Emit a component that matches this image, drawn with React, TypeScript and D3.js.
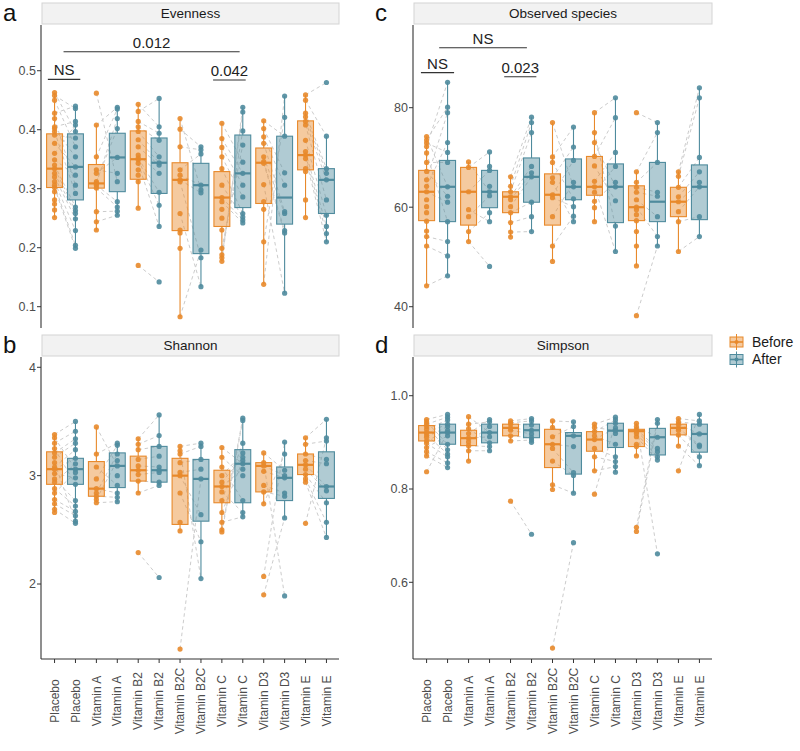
import React from "react";
import * as d3 from "d3";

const categories = ["Placebo","Placebo","Vitamin A","Vitamin A","Vitamin B2","Vitamin B2","Vitamin B2C","Vitamin B2C","Vitamin C","Vitamin C","Vitamin D3","Vitamin D3","Vitamin E","Vitamin E"];
const conditionNames = ["Before", "After"];
const conditionColors = ["#E8892B", "#4F8B9D"];

// ---- Evenness ----
const evennessPoints = [
  [.463,.458,.450,.428,.419,.405,.402,.397,.391,.377,.360,.349,.340,.334,.326,.320,.312,.306,.302,.295,.281,.274,.264,.251],
  [.397,.436,.371,.440,.306,.414,.354,.292,.386,.337,.408,.323,.269,.263,.258,.249,.229,.204,.199],
  [.462,.408,.354,.332,.326,.312,.309,.306,.301,.261,.244,.230],
  [.312,.438,.435,.326,.353,.402,.419,.278,.269,.262,.255],
  [.170,.443,.431,.414,.405,.397,.383,.371,.357,.352,.349,.343,.332,.323,.312,.267],
  [.142,.405,.453,.394,.382,.354,.344,.340,.326,.294,.272,.236],
  [.083,.419,.401,.371,.332,.323,.315,.312,.258,.230,.225,.199],
  [.196,.298,.371,.366,.359,.306,.293,.183,.134],
  [.177,.183,.188,.199,.411,.385,.370,.354,.334,.306,.285,.278,.265,.250,.230],
  [.438,.430,.398,.374,.345,.326,.306,.286,.258,.252,.247,.242],
  [.138,.210,.415,.402,.388,.377,.354,.346,.343,.307,.278,.265],
  [.457,.421,.389,.327,.306,.261,.258,.229,.225,.123],
  [.459,.450,.428,.422,.414,.408,.382,.363,.357,.351,.334,.329,.281,.251],
  [.480,.389,.334,.326,.315,.281,.255,.236,.224,.210],
];
// [lower whisker, q1, median, q3, upper whisker]
const evennessBoxes = [
  [.251,.302,.334,.393,.463],[.199,.281,.337,.393,.440],
  [.229,.301,.309,.341,.408],[.255,.295,.353,.394,.438],
  [.267,.316,.350,.398,.443],[.236,.292,.344,.386,.453],
  [.083,.229,.315,.344,.419],[.134,.190,.306,.343,.371],
  [.177,.236,.285,.329,.411],[.242,.268,.326,.391,.438],
  [.138,.275,.344,.369,.415],[.123,.240,.285,.389,.457],
  [.251,.332,.357,.415,.459],[.210,.258,.315,.334,.389],
];
const evennessTicks = [0.1, 0.2, 0.3, 0.4, 0.5];
const evennessSig = [
  { label: "NS", from: -0.32, to: 1.23, y: 0.4854 },
  { label: "0.012", from: 0.43, to: 8.85, y: 0.5322 },
  { label: "0.042", from: 7.58, to: 9.14, y: 0.4842 },
];

// ---- Observed species ----
const observedPoints = [
  [44.2,52.2,54.1,74.2,73.5,72.9,72.2,70.9,69.0,67.2,65.5,64.2,63.1,61.5,60.1,58.9,57.2,55.2],
  [46.2,50.2,53.1,64.1,80.1,71.0,85.1,57.1,69.0,62.2,79.0,73.0,61.0],
  [69.1,68.0,63.1,59.5,58.1,55.1,53.1],
  [63.1,71.1,67.4,57.1,62.3,58.9,48.1,68.2,64.2],
  [66.1,64.2,63.1,62.1,61.5,60.1,58.9,56.9,55.0,54.0],
  [78.1,77.0,75.0,68.2,66.9,66.1,61.0,58.1,55.1],
  [77.0,70.1,69.0,65.9,65.0,62.5,61.9,58.1,52.2,49.1],
  [64.1,76.1,61.7,72.1,57.1,69.4,60.1,65.0,58.2],
  [79.0,75.0,73.0,70.2,68.3,65.2,64.1,63.0,61.2,59.9,57.1],
  [82.0,56.2,64.1,78.0,61.3,71.0,51.1,68.2,65.0],
  [79.0,38.2,67.1,65.0,64.0,63.0,61.5,60.0,59.5,58.5,57.3,55.1,52.2,48.2],
  [77.0,52.2,75.0,69.0,63.0,62.2,58.1,54.1],
  [67.1,66.2,64.0,62.1,61.1,59.1,57.1,51.1],
  [84.0,82.0,70.0,67.1,65.0,64.1,58.1,54.1],
];
const observedBoxes = [
  [44.2,57.3,63.1,67.4,74.2],[46.2,57.1,64.1,69.4,85.1],
  [53.1,56.4,63.1,68.0,69.1],[57.1,59.9,63.1,67.4,71.1],
  [54.0,58.9,62.1,63.1,66.1],[55.1,61.0,66.1,69.9,78.1],
  [49.1,56.4,62.5,66.7,77.0],[57.1,61.5,64.1,69.7,76.1],
  [57.1,62.4,64.1,70.2,79.0],[51.1,56.9,64.1,68.7,82.0],
  [48.2,57.3,60.0,64.3,67.1],[52.2,57.1,61.1,69.0,77.0],
  [51.1,58.1,61.1,64.0,67.1],[54.1,57.5,64.1,68.5,84.0],
];
const observedTicks = [40, 60, 80];
const observedSig = [
  { label: "NS", from: 0.6, to: 4.78, y: 92.06 },
  { label: "NS", from: -0.27, to: 1.31, y: 87.04 },
  { label: "0.023", from: 3.7, to: 5.23, y: 86.23 },
];

// ---- Shannon ----
const shannonPoints = [
  [3.38,3.35,3.30,3.25,3.21,3.17,3.12,3.08,3.06,3.02,2.97,2.94,2.88,2.84,2.78,2.74,2.69,2.66],
  [3.50,3.06,3.41,2.92,3.34,3.30,2.58,3.24,3.16,2.98,2.77,3.11,2.72,3.03,2.67,2.63,2.56],
  [3.45,3.20,3.08,2.97,2.88,2.84,2.81,2.78,2.75],
  [3.09,3.30,2.91,3.28,2.84,3.20,2.80,3.14,2.76,3.00],
  [2.29,3.34,3.29,3.24,3.15,3.09,3.05,3.01,2.95,2.84],
  [2.06,3.56,3.37,3.27,3.18,3.08,3.05,3.03,2.94,2.91],
  [1.40,3.27,3.23,3.20,3.12,3.03,3.00,2.84,2.57,2.49],
  [2.97,3.30,2.05,3.27,3.15,3.06,2.64,2.39],
  [3.26,3.17,3.08,3.00,2.94,2.90,2.85,2.77,2.66,2.57,2.50,2.48],
  [3.11,3.00,2.77,3.21,3.17,3.06,2.66,3.30,3.14,2.62,3.53,3.51],
  [2.07,1.90,3.21,3.12,3.09,3.04,2.91,2.85,2.74],
  [3.31,2.61,3.05,1.89,3.00,2.98,2.84,2.81,3.20],
  [2.56,3.35,3.29,3.20,3.14,3.10,3.06,3.01,2.97,2.94],
  [3.35,3.52,3.32,3.15,3.11,2.90,2.86,2.75,2.57,2.43],
];
const shannonBoxes = [
  [2.66,2.92,3.06,3.22,3.38],[2.56,2.92,3.06,3.16,3.50],
  [2.75,2.81,2.88,3.13,3.45],[2.76,2.89,3.09,3.21,3.30],
  [2.84,2.95,3.05,3.18,3.34],[2.91,2.94,3.05,3.27,3.56],
  [2.49,2.55,3.00,3.16,3.27],[2.05,2.58,2.97,3.15,3.30],
  [2.48,2.75,2.90,3.05,3.26],[2.62,2.75,3.11,3.24,3.53],
  [2.74,2.85,3.09,3.12,3.21],[2.61,2.77,2.98,3.08,3.31],
  [2.94,3.01,3.10,3.20,3.35],[2.43,2.79,2.90,3.22,3.52],
];
const shannonTicks = [2, 3, 4];

// ---- Simpson ----
const simpsonPoints = [
  [.837,.949,.944,.939,.934,.928,.921,.916,.911,.903,.898,.889,.880,.871],
  [.921,.960,.896,.954,.884,.948,.939,.875,.934,.926,.869,.914,.856,.846],
  [.955,.939,.929,.919,.909,.901,.893,.882,.860],
  [.921,.944,.899,.949,.912,.934,.891,.882],
  [.774,.946,.942,.939,.931,.926,.914,.903],
  [.703,.951,.946,.937,.926,.918,.910,.905,.900],
  [.459,.946,.932,.912,.896,.887,.860,.809,.799],
  [.685,.944,.914,.934,.891,.835,.829,.791],
  [.789,.939,.932,.923,.914,.906,.887,.869,.839],
  [.941,.954,.925,.948,.896,.931,.869,.859,.848,.836,.919],
  [.718,.709,.941,.934,.928,.924,.919,.912,.896,.891,.871],
  [.949,.941,.661,.911,.887,.880,.869,.862],
  [.839,.951,.944,.939,.931,.926,.916,.892],
  [.960,.946,.939,.918,.894,.891,.869,.850],
];
const simpsonBoxes = [
  [.871,.903,.921,.936,.949],[.846,.896,.921,.939,.960],
  [.860,.893,.909,.926,.955],[.882,.899,.921,.939,.949],
  [.903,.914,.931,.939,.946],[.900,.910,.926,.939,.951],
  [.799,.846,.896,.928,.946],[.791,.832,.914,.921,.944],
  [.839,.881,.906,.923,.939],[.836,.889,.925,.941,.954],
  [.871,.891,.924,.928,.941],[.862,.873,.911,.930,.949],
  [.892,.916,.931,.939,.951],[.850,.879,.918,.939,.960],
];
const simpsonTicks = [0.6, 0.8, 1.0];

const FONT = "'Liberation Sans', Arial, Helvetica, sans-serif";

type Sig = { label: string; from: number; to: number; y: number };

function Panel(props: {
  title: string; letter: string; points: number[][]; boxes: number[][];
  domain: [number, number]; ticks: number[]; fmt: (v: number) => string;
  left: number; right: number; top: number; bottom: number;
  showX: boolean; sigs?: Sig[];
}) {
  const { title, letter, points, boxes, domain, ticks, fmt, left, right, top, bottom, showX, sigs } = props;
  const idx = categories.map((_, i) => String(i));
  const x = d3.scalePoint<string>().domain(idx).range([left, right]).padding(0.6);
  const y = d3.scaleLinear().domain(domain).range([bottom, top]);
  const step = x.step();
  const hw = step * 0.38;
  const xi = (i: number) => (x(String(i)) as number);
  const xf = (f: number) => x(idx[0])! + f * step;

  const pairLines: JSX.Element[] = [];
  for (let k = 0; k < categories.length; k += 2) {
    const b = points[k], a = points[k + 1];
    const n = Math.min(b.length, a.length);
    for (let i = 0; i < n; i++) {
      pairLines.push(
        <line key={`pl${k}-${i}`} x1={xi(k)} y1={y(b[i])} x2={xi(k + 1)} y2={y(a[i])}
          stroke="#cccccc" strokeWidth={1} strokeDasharray="3.5,3" />
      );
    }
  }

  const letterY = top < 100 ? 21 : top - 4;

  return (
    <g>
      <text x={left - 39} y={letterY} fontSize={24} fontFamily={FONT} fill="#111">{letter}</text>
      <rect x={left} y={top - 22} width={right - left} height={21} fill="#f2f2f2" stroke="#d4d4d4" strokeWidth={1} />
      <text x={(left + right) / 2} y={top - 7} textAnchor="middle" fontSize={13.5} fontFamily={FONT} fill="#1a1a1a">{title}</text>
      {pairLines}
      {boxes.map((bx, i) => {
        const c = conditionColors[i % 2];
        const cx = xi(i);
        return (
          <g key={`b${i}`}>
            <line x1={cx} x2={cx} y1={y(bx[0])} y2={y(bx[1])} stroke={c} strokeWidth={1.1} />
            <line x1={cx} x2={cx} y1={y(bx[3])} y2={y(bx[4])} stroke={c} strokeWidth={1.1} />
            <rect x={cx - hw} y={y(bx[3])} width={hw * 2} height={y(bx[1]) - y(bx[3])}
              fill={c} fillOpacity={0.45} stroke={c} strokeWidth={1.1} />
            <line x1={cx - hw} x2={cx + hw} y1={y(bx[2])} y2={y(bx[2])} stroke={c} strokeWidth={2.2} />
          </g>
        );
      })}
      {points.map((pts, i) => pts.map((v, j) => (
        <circle key={`p${i}-${j}`} cx={xi(i)} cy={y(v)} r={2.6} fill={conditionColors[i % 2]} fillOpacity={0.9} />
      )))}
      <line x1={left - 1} x2={left - 1} y1={top} y2={bottom} stroke="#333" strokeWidth={1.1} />
      {ticks.map((t) => (
        <g key={`t${t}`}>
          <line x1={left - 5} x2={left - 1} y1={y(t)} y2={y(t)} stroke="#333" strokeWidth={1} />
          <text x={left - 6} y={y(t)} dy="0.35em" textAnchor="end" fontSize={12.5} fontFamily={FONT} fill="#4d4d4d">{fmt(t)}</text>
        </g>
      ))}
      {showX && (
        <g>
          <line x1={left - 1} x2={right} y1={bottom} y2={bottom} stroke="#333" strokeWidth={1.1} />
          {categories.map((c, i) => (
            <g key={`xt${i}`}>
              <line x1={xi(i)} x2={xi(i)} y1={bottom} y2={bottom + 4} stroke="#333" strokeWidth={1} />
              <text transform={`translate(${xi(i)},${bottom + 42}) rotate(-90)`} textAnchor="middle" dy="0.35em"
                fontSize={12} fontFamily={FONT} fill="#4d4d4d">{c}</text>
            </g>
          ))}
        </g>
      )}
      {sigs && sigs.map((s, i) => (
        <g key={`s${i}`}>
          <line x1={xf(s.from)} x2={xf(s.to)} y1={y(s.y)} y2={y(s.y)} stroke="#333" strokeWidth={1.1} />
          <text x={(xf(s.from) + xf(s.to)) / 2} y={y(s.y) - 4} textAnchor="middle" fontSize={15} fontFamily={FONT} fill="#222">{s.label}</text>
        </g>
      ))}
    </g>
  );
}

function LegendKey({ color, yTop }: { color: string; yTop: number }) {
  const cx = 736.5;
  return (
    <g>
      <line x1={cx} x2={cx} y1={yTop} y2={yTop + 16} stroke={color} strokeWidth={1} />
      <rect x={730} y={yTop + 3} width={13} height={10} fill={color} fillOpacity={0.45} stroke={color} strokeWidth={1} />
      <line x1={730} x2={743} y1={yTop + 8} y2={yTop + 8} stroke={color} strokeWidth={1.6} />
      <circle cx={cx} cy={yTop + 8} r={2} fill={color} />
    </g>
  );
}

export default function App() {
  const f1 = d3.format(".1f");
  const f0 = d3.format("d");
  return (
    <svg width={800} height={751} style={{ position: "absolute", left: 0, top: 0, background: "#fff" }}>
      <rect x={0} y={0} width={800} height={751} fill="#fff" />
      <Panel title="Evenness" letter="a" points={evennessPoints} boxes={evennessBoxes}
        domain={[0.0639, 0.5775]} ticks={evennessTicks} fmt={f1}
        left={42} right={339} top={25} bottom={328} showX={false} sigs={evennessSig} />
      <Panel title="Observed species" letter="c" points={observedPoints} boxes={observedBoxes}
        domain={[35.72, 96.62]} ticks={observedTicks} fmt={f0}
        left={414} right={712} top={25} bottom={328} showX={false} sigs={observedSig} />
      <Panel title="Shannon" letter="b" points={shannonPoints} boxes={shannonBoxes}
        domain={[1.308, 4.095]} ticks={shannonTicks} fmt={f0}
        left={42} right={339} top={357} bottom={659} showX={true} />
      <Panel title="Simpson" letter="d" points={simpsonPoints} boxes={simpsonBoxes}
        domain={[0.4356, 1.083]} ticks={simpsonTicks} fmt={f1}
        left={414} right={712} top={357} bottom={659} showX={true} />
      {conditionNames.map((nm, i) => (
        <g key={nm}>
          <LegendKey color={conditionColors[i]} yTop={334 + i * 17.5} />
          <text x={752} y={342 + i * 17.5} dy="0.35em" fontSize={14} fontFamily={FONT} fill="#1a1a1a">{nm}</text>
        </g>
      ))}
    </svg>
  );
}
